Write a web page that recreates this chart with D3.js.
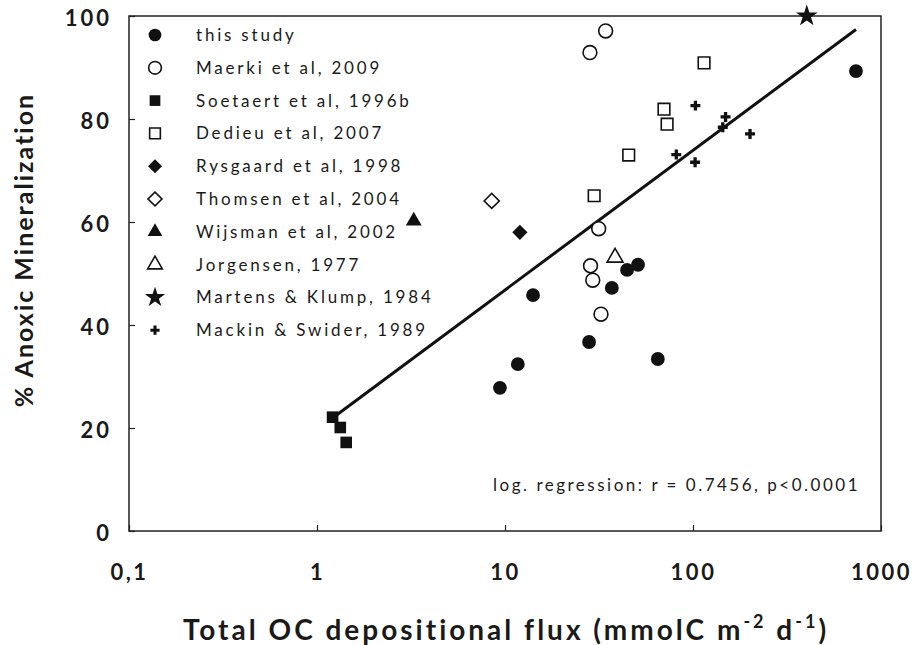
<!DOCTYPE html>
<html>
<head>
<meta charset="utf-8">
<script src="https://cdn.jsdelivr.net/npm/d3@7"></script>
<style>
  body { margin: 0; background: #fff; }
  svg text { font-family: Lato, "Open Sans", sans-serif; fill: #1a1a1a; }
  .tick-label { font-weight: bold; font-size: 22px; letter-spacing: 3px; }
  .axis-title { font-weight: bold; letter-spacing: 2px; }
  .legend-text { font-size: 17px; letter-spacing: 2.8px; }
</style>
</head>
<body>
<div id="chart"></div>
<script>
// series: [flux (mmolC m-2 d-1), % anoxic mineralization]
const thisStudy = [[9.4, 27.8], [11.7, 32.4], [14.1, 45.8], [28, 36.7], [37, 47.2], [44.6, 50.7], [51, 51.7], [65, 33.4], [736, 89.3]];
const maerki = [[34.3, 97.1], [28.3, 92.9], [31.5, 58.7], [28.5, 51.5], [29.3, 48.7], [32.4, 42.1]];
const soetaert = [[1.21, 22.1], [1.33, 20.1], [1.43, 17.2]];
const dedieu = [[114.5, 90.9], [70.1, 81.9], [72.8, 79.0], [45.5, 73.0], [29.8, 65.1]];
const rysgaard = [[12.0, 58.0]];
const thomsen = [[8.5, 64.1]];
const wijsman = [[3.27, 60.2]];
const jorgensen = [[38.5, 53.1]];
const martens = [[403, 100]];
const mackin = [[103, 82.6], [149, 80.4], [144, 78.4], [201, 77.1], [81.5, 73.1], [102.6, 71.6]];

const xTicks = [0.1, 1, 10, 100, 1000];
const xTickLabels = ['0,1', '1', '10', '100', '1000'];
const yTicks = [0, 20, 40, 60, 80, 100];

// log regression: y = a + b * log10(x)
const regA = 19.7;
const regB = 27.1;
const regText = 'log. regression: r = 0.7456, p<0.0001';

const series = [
  { name: 'this study', data: thisStudy, shape: 'circle', filled: true },
  { name: 'Maerki et al, 2009', data: maerki, shape: 'circle', filled: false },
  { name: 'Soetaert et al, 1996b', data: soetaert, shape: 'square', filled: true },
  { name: 'Dedieu et al, 2007', data: dedieu, shape: 'square', filled: false },
  { name: 'Rysgaard et al, 1998', data: rysgaard, shape: 'diamond', filled: true },
  { name: 'Thomsen et al, 2004', data: thomsen, shape: 'diamond', filled: false },
  { name: 'Wijsman et al, 2002', data: wijsman, shape: 'triangle', filled: true },
  { name: 'Jorgensen, 1977', data: jorgensen, shape: 'triangle', filled: false },
  { name: 'Martens & Klump, 1984', data: martens, shape: 'star', filled: true },
  { name: 'Mackin & Swider, 1989', data: mackin, shape: 'plus', filled: true },
];

const width = 912;
const height = 645;
const margin = { top: 16, right: 31, bottom: 114, left: 129 };
const ink = '#111';

const svg = d3.select('#chart')
  .append('svg')
  .attr('width', width)
  .attr('height', height);

const x = d3.scaleLog()
  .domain([0.1, 1000])
  .range([margin.left, width - margin.right]);

const y = d3.scaleLinear()
  .domain([0, 100])
  .range([height - margin.bottom, margin.top]);

// symbol path for each marker shape
function symbolPath(shape, legend) {
  const k = legend ? 0.85 : 1;
  if (shape === 'circle') return d3.symbol(d3.symbolCircle, 150 * k)();
  if (shape === 'square') return d3.symbol(d3.symbolSquare, 135 * k)();
  if (shape === 'triangle') return d3.symbol(d3.symbolTriangle, 110 * k)();
  if (shape === 'star') return d3.symbol(d3.symbolStar, 150 * k)();
  if (shape === 'plus') return d3.symbol(d3.symbolCross, 55 * k)();
  // diamond: a square turned 45 degrees
  return d3.symbol(d3.symbolSquare, 115 * k)();
}

function drawMarker(sel, s, legend) {
  sel.append('path')
    .attr('d', symbolPath(s.shape, legend))
    .attr('transform', s.shape === 'diamond' ? 'rotate(45)' : null)
    .attr('fill', s.filled ? ink : '#fff')
    .attr('stroke', ink)
    .attr('stroke-width', s.filled ? 0 : 1.6);
}

// frame
svg.append('rect')
  .attr('x', x.range()[0])
  .attr('y', y.range()[1])
  .attr('width', x.range()[1] - x.range()[0])
  .attr('height', y.range()[0] - y.range()[1])
  .attr('fill', 'none')
  .attr('stroke', '#222')
  .attr('stroke-width', 1.5);

// x axis, ticks pointing inward
const xAxis = svg.append('g')
  .attr('transform', `translate(0,${y(0)})`)
  .call(d3.axisBottom(x)
    .tickValues(xTicks)
    .tickSize(-6)
    .tickPadding(33)
    .tickFormat((d, i) => xTickLabels[i]));
xAxis.select('.domain').remove();
xAxis.selectAll('.tick line').attr('stroke', '#222').attr('stroke-width', 1.2);
xAxis.selectAll('.tick text')
  .attr('class', 'tick-label')
  .attr('fill', '#1a1a1a')
  .attr('font-family', null)
  .attr('font-size', null)
  .style('letter-spacing', '2.5px');

// y axis
const yAxis = svg.append('g')
  .attr('transform', `translate(${x(0.1)},0)`)
  .call(d3.axisLeft(y)
    .tickValues(yTicks)
    .tickSize(-6)
    .tickPadding(17));
yAxis.select('.domain').remove();
yAxis.selectAll('.tick line').attr('stroke', '#222').attr('stroke-width', 1.2);
yAxis.selectAll('.tick text')
  .attr('class', 'tick-label')
  .attr('fill', '#1a1a1a')
  .attr('font-family', null)
  .attr('font-size', null)
  .attr('dy', '0.45em');

// regression line over the range of the data
const allX = series.flatMap(s => s.data.map(d => d[0]));
const lineX = [d3.min(allX), d3.max(allX)];
const line = d3.line()
  .x(d => x(d))
  .y(d => y(regA + regB * Math.log10(d)));
svg.append('path')
  .attr('d', line(lineX))
  .attr('fill', 'none')
  .attr('stroke', ink)
  .attr('stroke-width', 3);

// points
series.forEach((s) => {
  const g = svg.append('g').attr('class', 'series');
  g.selectAll('g')
    .data(s.data)
    .enter()
    .append('g')
    .attr('transform', d => `translate(${x(d[0])},${y(d[1])})`)
    .each(function () { drawMarker(d3.select(this), s, false); });
});

// legend
const legend = svg.append('g')
  .attr('transform', 'translate(155,35)');
series.forEach((s, i) => {
  const row = legend.append('g').attr('transform', `translate(0,${i * 32.8})`);
  drawMarker(row, s, true);
  row.append('text')
    .attr('class', 'legend-text')
    .attr('x', 41)
    .attr('y', 6)
    .text(s.name);
});

svg.append('text')
  .attr('class', 'legend-text')
  .attr('x', 860)
  .attr('y', 491)
  .attr('text-anchor', 'end')
  .style('letter-spacing', '2.5px')
  .text(regText);

// axis titles
svg.append('text')
  .attr('class', 'axis-title')
  .attr('transform', 'translate(33,250) rotate(-90)')
  .attr('text-anchor', 'middle')
  .style('font-size', '25px')
  .text('% Anoxic Mineralization');

const xt = svg.append('text')
  .attr('class', 'axis-title')
  .attr('x', 506)
  .attr('y', 640)
  .attr('text-anchor', 'middle')
  .style('font-size', '28px')
  .style('letter-spacing', '3px');
xt.append('tspan').text('Total OC depositional flux (mmolC m');
xt.append('tspan').attr('dy', -12).style('font-size', '18px').text('-2');
xt.append('tspan').attr('dy', 12).text(' d');
xt.append('tspan').attr('dy', -12).style('font-size', '18px').text('-1');
xt.append('tspan').attr('dy', 12).text(')');
</script>
</body>
</html>
